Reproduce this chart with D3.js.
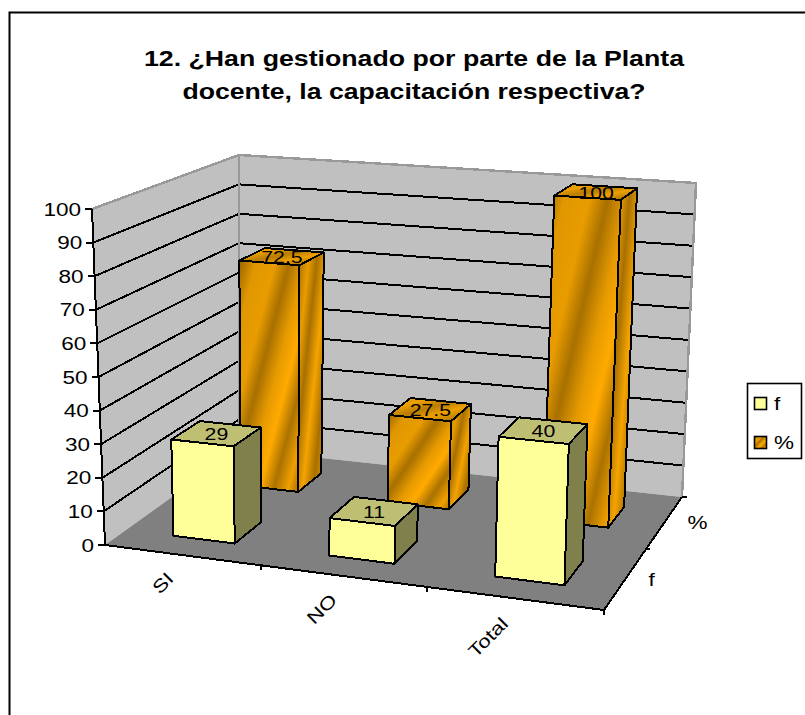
<!DOCTYPE html>
<html><head><meta charset="utf-8">
<script src="https://cdn.jsdelivr.net/npm/d3@7"></script>
<style>html,body{margin:0;padding:0;background:#fff;overflow:hidden}svg{display:block}text{font-family:"Liberation Sans",Arial,sans-serif;fill:#000}</style>
</head><body><svg id="c" width="805" height="715"></svg>
<script>
// ---- data ----
const categories = ["SI", "NO", "Total"];
const seriesNames = ["f", "%"];
const fValues = [29, 11, 40];
const pctValues = [72.5, 27.5, 100];
const pctLabels = ["72.5", "27.5", "100"];
const yTicks = [0, 10, 20, 30, 40, 50, 60, 70, 80, 90, 100];
const titleLines = ["12. ¿Han gestionado por parte de la Planta", "docente, la capacitación respectiva?"];

// ---- layout of the 3D box (screen corners) ----
const floorCorners = [[105, 545], [604, 610], [682, 497], [239, 449]];
const ceilCorners  = [[92, 209], [616, 246], [696, 183], [239, 155]];

function homography([p0, p1, p2, p3]) {
  const [x0,y0]=p0,[x1,y1]=p1,[x2,y2]=p2,[x3,y3]=p3;
  const dx3=x0-x1+x2-x3, dy3=y0-y1+y2-y3, dx1=x1-x2, dx2=x3-x2, dy1=y1-y2, dy2=y3-y2;
  const den=dx1*dy2-dx2*dy1, g=(dx3*dy2-dx2*dy3)/den, h=(dx1*dy3-dx3*dy1)/den;
  const a=x1-x0+g*x1, b=x3-x0+h*x3, d=y1-y0+g*y1, e=y3-y0+h*y3;
  return (u,v)=>{const w=g*u+h*v+1;return [(a*u+b*v+x0)/w,(d*u+e*v+y0)/w];};
}
const floorMap = homography(floorCorners), ceilMap = homography(ceilCorners);

const yScale = d3.scaleLinear().domain([0, 100]).range([0, 1]);
const uScale = d3.scaleBand().domain(categories).range([0.005, 1.002]).paddingInner(0.6).paddingOuter(0.3);
const vScale = d3.scaleBand().domain(seriesNames).range([-0.01, 1]).paddingInner(0.6).paddingOuter(0.3);
const uTick = d3.scalePoint().domain(categories).range([0, 1]).padding(0.5);

function P(u, v, val) {
  const t = yScale(val), a = floorMap(u, v), b = ceilMap(u, v);
  return [a[0] + (b[0]-a[0])*t, a[1] + (b[1]-a[1])*t];
}
const svg = d3.select("#c");
const line = d3.line();
const poly = pts => line(pts) + "Z";
const STROKE = 2;
const STRETCH = 1.25;
function stretch(sel){ // the original's bitmap text is wider than Liberation Sans
  sel.each(function(){const l=this.getComputedTextLength();d3.select(this).attr("textLength",l*STRETCH).attr("lengthAdjust","spacingAndGlyphs");});
  return sel;
}

// gradient
const defs = svg.append("defs");
function grad(id, stops, x2=1, y2=1){
  const g = defs.append("linearGradient").attr("id",id).attr("x1",0).attr("y1",0).attr("x2",x2).attr("y2",y2);
  stops.forEach(([o,c])=>g.append("stop").attr("offset",o).attr("stop-color",c));
}
grad("front",[[0,"#9a6600"],[.14,"#e09700"],[.3,"#e89c00"],[.42,"#a87000"],[.55,"#e69a00"],[.66,"#ffaa00"],[.78,"#ab7200"],[.9,"#f0a000"],[1,"#a06a00"]]);
grad("side",[[0,"#a06a00"],[.22,"#e89c00"],[.38,"#a87000"],[.58,"#f5a400"],[.78,"#a87000"],[1,"#e09700"]]);
grad("top",[[0,"#d08c00"],[.25,"#eda000"],[.45,"#b87c00"],[.65,"#eda000"],[.85,"#b87c00"],[1,"#e09700"]]);

// frame
svg.append("rect").attr("x",9.5).attr("y",12.5).attr("width",820).attr("height",760)
  .attr("fill","#fff").attr("stroke","#000").attr("stroke-width",2);

// title
svg.selectAll("text.title").data(titleLines).join("text").attr("class","title")
  .attr("x",414).attr("text-anchor","middle")
  .attr("y",(d,i)=>[66,99][i]).attr("font-size",22).attr("font-weight","bold")
  .attr("textLength",(d,i)=>[540,463][i]).attr("lengthAdjust","spacingAndGlyphs").text(d=>d);

// walls
const LW = [P(0,0,100),P(0,1,100),P(0,1,0),P(0,0,0)];
const BW = [P(0,1,100),P(1,1,100),P(1,1,0),P(0,1,0)];
const FL = [P(0,0,0),P(1,0,0),P(1,1,0),P(0,1,0)];
svg.append("path").attr("d",poly(LW)).attr("fill","#c0c0c0");
svg.append("path").attr("d",poly(BW)).attr("fill","#c0c0c0");
svg.append("path").attr("d",poly(FL)).attr("fill","#808080");

// gridlines on the walls
const grid = svg.append("g").attr("shape-rendering","crispEdges").attr("fill","none");
yTicks.filter(t=>t>0&&t<100).forEach(t=>{
  grid.append("path").attr("d",line([P(0,0,t),P(0,1,t),P(1,1,t)])).attr("stroke","#000").attr("stroke-width",STROKE);
});
grid.append("path").attr("d",line([P(0,0,100),P(0,1,100),P(1,1,100),P(1,1,0)])).attr("stroke","#999").attr("stroke-width",2.4);
grid.append("path").attr("d",line([P(0,1,100),P(0,1,0)])).attr("stroke","#999").attr("stroke-width",2.4);

// axes
const axes = svg.append("g").attr("fill","none").attr("shape-rendering","crispEdges").attr("stroke","#000").attr("stroke-width",STROKE);
axes.append("path").attr("d",line([P(0,0,100),P(0,0,0),P(1,0,0),P(1,1,0)]));
yTicks.forEach(t=>{const p=P(0,0,t);axes.append("path").attr("d",line([[p[0]-7,p[1]],p]));});
[1/3,2/3].forEach(u=>{const p=P(u,0,0);axes.append("path").attr("d",line([p,[p[0],p[1]+5]]));});
{const p=P(1,0,0);axes.append("path").attr("d",line([p,[p[0],p[1]+5]]));}
{const p=P(1,1,0);axes.append("path").attr("d",line([p,[p[0]+5,p[1]]]));}
{const p=P(1,.5,0);axes.append("path").attr("d",line([p,[p[0]+4,p[1]]]));}

// y tick labels
stretch(svg.selectAll("text.yt").data(yTicks).join("text").attr("class","yt")
  .attr("x",t=>P(0,0,t)[0]-11).attr("y",t=>P(0,0,t)[1]+6.5).attr("text-anchor","end")
  .attr("font-size",18).text(d=>d));

// bars
function bar(g, cat, ser, val, label, fills){
  const u0=uScale(cat), u1=u0+uScale.bandwidth(), v0=vScale(ser), v1=v0+vScale.bandwidth();
  const F=[P(u0,v0,val),P(u1,v0,val),P(u1,v0,0),P(u0,v0,0)];
  const S=[P(u1,v0,val),P(u1,v1,val),P(u1,v1,0),P(u1,v0,0)];
  const T=[P(u0,v0,val),P(u1,v0,val),P(u1,v1,val),P(u0,v1,val)];
  [[S,fills[1]],[T,fills[2]],[F,fills[0]]].forEach(([q,c])=>{
    g.append("path").attr("d",poly(q)).attr("fill",c).attr("stroke","#000")
     .attr("stroke-width",STROKE).attr("shape-rendering","crispEdges").attr("stroke-linejoin","round");
  });
  const c=P((u0+u1)/2,(v0+v1)/2,val);
  stretch(g.append("text").attr("x",c[0]).attr("y",c[1]+7).attr("text-anchor","middle").attr("font-size",17).text(label));
}
const bars = svg.append("g");
const orange=["url(#front)","url(#side)","url(#top)"], yellow=["#ffff99","#80804d","#bfbf73"];
categories.forEach((c,i)=>bar(bars,c,"%",pctValues[i],pctLabels[i],orange));
categories.forEach((c,i)=>bar(bars,c,"f",fValues[i],String(fValues[i]),yellow));

// category labels rotated
const catOffset=[[-18,29],[-20,34],[-25,40]];
categories.forEach((c,i)=>{
  const p=P(uTick(c),0,0), x=p[0]+catOffset[i][0], y=p[1]+catOffset[i][1];
  stretch(svg.append("text").attr("transform",`translate(${x},${y}) rotate(-45)`).attr("text-anchor","middle")
    .attr("dominant-baseline","middle").attr("font-size",18).text(c));
});
// series labels
const serPos = d3.scalePoint().domain(seriesNames).range([0,1]).padding(0.5);
const serOff=[[26,7],[33,7]];
seriesNames.forEach((s,i)=>{
  const p=P(1,serPos(s),0);
  stretch(svg.append("text").attr("x",p[0]+serOff[i][0]).attr("y",p[1]+serOff[i][1]).attr("text-anchor","middle").attr("font-size",18).text(s));
});

// legend
const lg = svg.append("g");
lg.append("rect").attr("x",747.5).attr("y",383.5).attr("width",54).attr("height",75).attr("fill","#fff").attr("stroke","#000").attr("stroke-width",1.6);
const legendY = d3.scalePoint().domain(seriesNames).range([397,436]);
seriesNames.forEach((s,i)=>{
  lg.append("rect").attr("x",754.5).attr("y",legendY(s)+.5).attr("width",12).attr("height",12)
    .attr("fill",i?"url(#front)":"#ffff99").attr("stroke","#000").attr("stroke-width",1.6);
  stretch(lg.append("text").attr("x",774).attr("y",legendY(s)+13).attr("font-size",18).text(s));
});
</script></body></html>
